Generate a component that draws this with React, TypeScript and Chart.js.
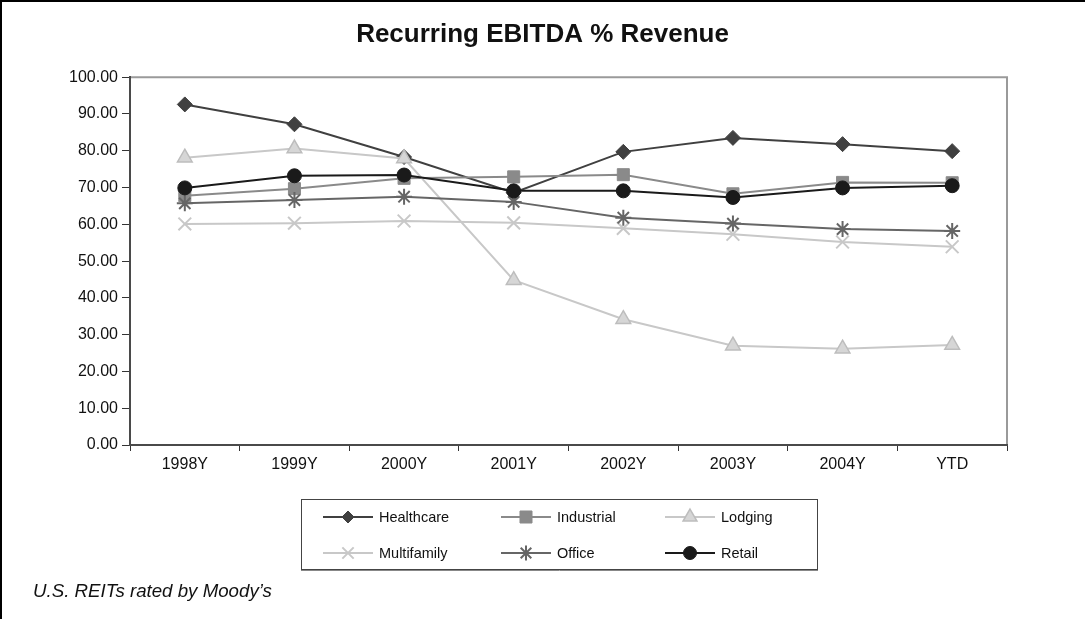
import { useEffect, useRef } from 'react';
import { Chart, registerables } from 'chart.js';
import { drawPoint } from 'chart.js/helpers';

Chart.register(...registerables);

const categories = ['1998Y', '1999Y', '2000Y', '2001Y', '2002Y', '2003Y', '2004Y', 'YTD'];
const healthcare = [92.6, 87.2, 78.3, 68.6, 79.7, 83.5, 81.8, 79.9];
const industrial = [67.8, 69.7, 72.5, 72.9, 73.5, 68.3, 71.4, 71.3];
const lodging = [78.1, 80.6, 77.9, 44.8, 34.2, 27.0, 26.2, 27.2];
const multifamily = [60.1, 60.3, 60.9, 60.4, 58.9, 57.3, 55.2, 53.9];
const office = [65.7, 66.6, 67.5, 66.1, 61.8, 60.2, 58.7, 58.2];
const retail = [69.9, 73.2, 73.4, 69.1, 69.1, 67.3, 69.9, 70.5];
const yTicks = [0, 10, 20, 30, 40, 50, 60, 70, 80, 90, 100];

const seriesNames = ['Healthcare', 'Industrial', 'Lodging', 'Multifamily', 'Office', 'Retail'];
const seriesValues = [healthcare, industrial, lodging, multifamily, office, retail];

const SANS = "'Liberation Sans', Arial, Helvetica, sans-serif";

const styles = [
  { line: '#404040', fill: '#404040', border: '#404040', point: 'rectRot', r: 7.5, lr: 6, bw: 1 },
  { line: '#8a8a8a', fill: '#8a8a8a', border: '#8a8a8a', point: 'rect', r: 8.5, lr: 8.5, bw: 1 },
  { line: '#c8c8c8', fill: '#d6d6d6', border: '#bdbdbd', point: 'triangle', r: 8.5, lr: 8, bw: 1.5 },
  { line: '#c8c8c8', fill: '#c8c8c8', border: '#c8c8c8', point: 'crossRot', r: 9, lr: 8, bw: 2 },
  { line: '#666666', fill: '#666666', border: '#666666', point: 'star', r: 8, lr: 7.5, bw: 2 },
  { line: '#1a1a1a', fill: '#1a1a1a', border: '#1a1a1a', point: 'circle', r: 7, lr: 6.5, bw: 1 },
];

const legendCols = [323, 501, 665];
const legendRows = [517, 553];

const decorPlugin = {
  id: 'decor',
  beforeDraw(chart: any) {
    const ctx = chart.ctx;
    ctx.save();
    ctx.fillStyle = '#ffffff';
    ctx.fillRect(0, 0, chart.width, chart.height);
    ctx.restore();
  },
  afterDraw(chart: any) {
    const ctx = chart.ctx;
    const a = chart.chartArea;
    ctx.save();
    // outer frame (top and left)
    ctx.fillStyle = '#000000';
    ctx.fillRect(0, 0, chart.width, 2);
    ctx.fillRect(0, 0, 2, chart.height);
    // plot area top/right border
    ctx.strokeStyle = '#9a9a9a';
    ctx.lineWidth = 2;
    ctx.beginPath();
    ctx.moveTo(a.left + 1, a.top);
    ctx.lineTo(a.right, a.top);
    ctx.lineTo(a.right, a.bottom - 1);
    ctx.stroke();

    // legend box
    ctx.strokeStyle = '#444444';
    ctx.lineWidth = 1;
    ctx.strokeRect(301.5, 499.5, 516, 70);
    ctx.strokeStyle = '#888888';
    ctx.beginPath();
    ctx.moveTo(301, 570.5);
    ctx.lineTo(818, 570.5);
    ctx.stroke();

    // legend items
    chart.data.datasets.forEach((ds: any, i: number) => {
      const col = i % 3;
      const row = Math.floor(i / 3);
      const x0 = legendCols[col];
      const y = legendRows[row];
      const st = styles[i];
      ctx.strokeStyle = ds.borderColor;
      ctx.lineWidth = 2;
      ctx.beginPath();
      ctx.moveTo(x0, y);
      ctx.lineTo(x0 + 50, y);
      ctx.stroke();
      ctx.fillStyle = ds.pointBackgroundColor;
      ctx.strokeStyle = ds.pointBorderColor;
      ctx.lineWidth = ds.pointBorderWidth;
      drawPoint(ctx, { pointStyle: ds.pointStyle, radius: st.lr, rotation: 0, borderWidth: ds.pointBorderWidth }, x0 + 25, y);
      ctx.fillStyle = '#111111';
      ctx.font = `14.5px ${SANS}`;
      ctx.textBaseline = 'middle';
      ctx.textAlign = 'left';
      ctx.fillText(ds.label, x0 + 56, y + 1);
    });

    // footnote
    ctx.fillStyle = '#111111';
    ctx.font = `italic 18.7px ${SANS}`;
    ctx.textBaseline = 'middle';
    ctx.textAlign = 'left';
    ctx.fillText("U.S. REITs rated by Moody\u2019s", 33, 592);
    ctx.restore();
  },
};

export default function App() {
  const ref = useRef<HTMLCanvasElement | null>(null);

  useEffect(() => {
    document.body.style.margin = '0';
    const canvas = ref.current;
    if (!canvas) return;
    const datasets = seriesNames.map((name, i) => ({
      label: name,
      data: seriesValues[i],
      borderColor: styles[i].line,
      borderWidth: 2,
      pointStyle: styles[i].point,
      pointRadius: styles[i].r,
      pointHoverRadius: styles[i].r,
      pointBackgroundColor: styles[i].fill,
      pointBorderColor: styles[i].border,
      pointBorderWidth: styles[i].bw,
      fill: false,
      tension: 0,
      order: seriesNames.length - 1 - i,
      yAxisID: 'y',
    }));
    const chart = new Chart(canvas, {
      type: 'line',
      data: { labels: categories, datasets },
      plugins: [decorPlugin],
      options: {
        responsive: false,
        animation: false,
        devicePixelRatio: 1,
        layout: { padding: { top: 0, left: 0, right: 0, bottom: 134 } },
        plugins: {
          legend: { display: false },
          tooltip: { enabled: false },
          title: {
            display: true,
            text: 'Recurring EBITDA % Revenue',
            color: '#111111',
            font: { family: SANS, size: 26, weight: 'bold' },
            padding: { top: 19, bottom: 27 },
          },
        },
        scales: {
          x: {
            offset: true,
            grid: { display: true, drawOnChartArea: false, drawTicks: true, tickLength: 6, color: '#333333', offset: true },
            border: { display: true, color: '#4a4a4a', width: 2 },
            ticks: { color: '#111111', font: { family: SANS, size: 16 }, padding: 4, maxRotation: 0, autoSkip: false },
            afterFit: (s: any) => { s.height = 40; },
          },
          y: {
            position: 'left',
            min: 0,
            max: 100,
            afterBuildTicks: (s: any) => { s.ticks = yTicks.map((v) => ({ value: v })); },
            grid: { display: true, drawOnChartArea: false, drawTicks: true, tickLength: 8, color: '#333333' },
            border: { display: true, color: '#4a4a4a', width: 2 },
            ticks: {
              color: '#111111',
              font: { family: SANS, size: 16 },
              padding: 4,
              callback: (v: any) => Number(v).toFixed(2),
            },
            afterFit: (s: any) => { s.width = 130; },
          },
          spacer: {
            type: 'linear',
            position: 'right',
            display: true,
            min: 0,
            max: 100,
            grid: { display: false, drawTicks: false },
            border: { display: false },
            ticks: { display: false },
            afterFit: (s: any) => { s.width = 78; },
          },
        },
      },
    } as any);
    return () => chart.destroy();
  }, []);

  return (
    <div style={{ width: 1085, height: 619 }}>
      <canvas ref={ref} width={1085} height={619} style={{ display: 'block' }} />
    </div>
  );
}
